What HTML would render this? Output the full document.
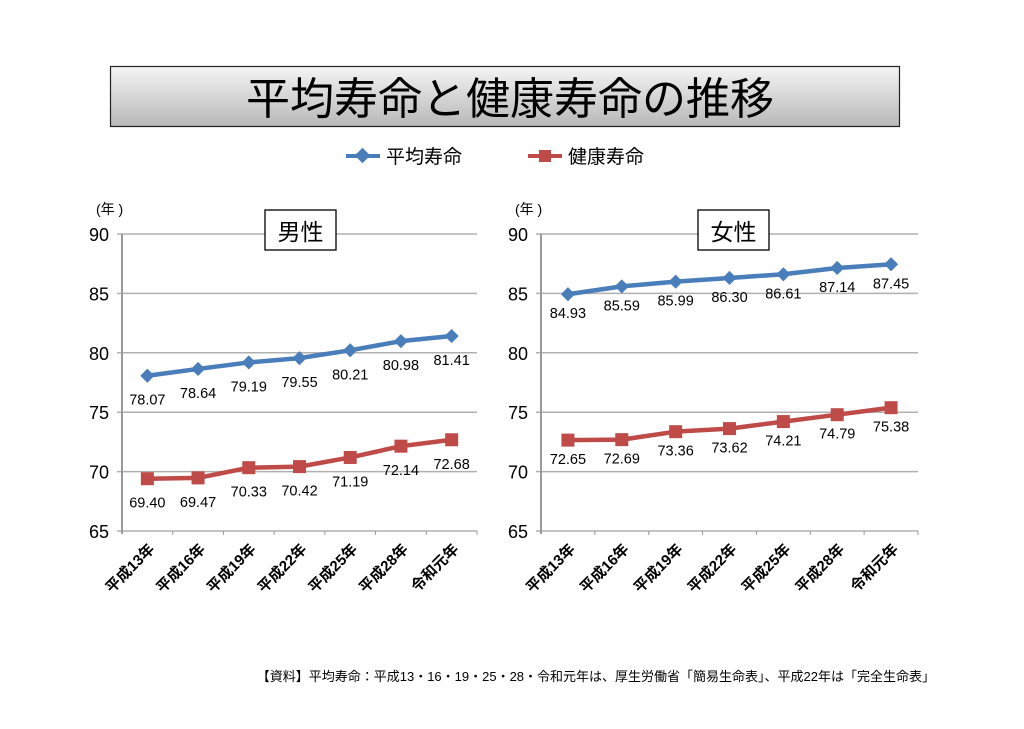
<!DOCTYPE html>
<html><head><meta charset="utf-8"><style>
body{margin:0;background:#fff;width:1024px;height:724px;overflow:hidden}
svg text{font-family:"Liberation Sans","Noto Sans CJK JP",sans-serif}
</style></head><body>
<svg width="1024" height="724" xmlns="http://www.w3.org/2000/svg">
<defs>
<linearGradient id="g" x1="0" y1="0" x2="0" y2="1"><stop offset="0" stop-color="#f4f4f4"/><stop offset="1" stop-color="#b8b8b8"/></linearGradient>
</defs>
<rect x="110.5" y="66.5" width="789" height="60" fill="url(#g)" stroke="#222" stroke-width="1.2"/>
<text x="510" y="114" font-size="44" text-anchor="middle" fill="#000">平均寿命と健康寿命の推移</text>
<!-- legend -->
<line x1="346" y1="156" x2="380" y2="156" stroke="#4a7ebb" stroke-width="4"/>
<rect x="357" y="150" width="11" height="11" fill="#4a7ebb" transform="rotate(45 362.5 155.5)"/>
<text x="386" y="163" font-size="19">平均寿命</text>
<line x1="528" y1="156" x2="562" y2="156" stroke="#be4b48" stroke-width="4"/>
<rect x="539" y="150" width="12" height="12" fill="#be4b48"/>
<text x="568" y="163" font-size="19">健康寿命</text>
<g id="charts"></g>
<text x="935" y="681" font-size="13" text-anchor="end">【資料】平均寿命：平成13・16・19・25・28・令和元年は、厚生労働省「簡易生命表」、平成22年は「完全生命表」</text>
</svg>
<script>
const ns="http://www.w3.org/2000/svg",G=document.getElementById('charts');
function el(t,a,txt){const e=document.createElementNS(ns,t);for(const k in a)e.setAttribute(k,a[k]);if(txt!==undefined)e.textContent=txt;G.appendChild(e);return e;}
const cats=["平成13年","平成16年","平成19年","平成22年","平成25年","平成28年","令和元年"];
function chart(x0,x1,title,tx,a,b){
 const y=v=>234+(90-v)*11.88, w=(x1-x0)/7;
 for(let v=65;v<=90;v+=5){el('line',{x1:x0-5,y1:y(v),x2:x1,y2:y(v),stroke:'#b0b0b0','stroke-width':1.5});
  el('text',{x:x0-13,y:y(v)+7,'font-size':18,'text-anchor':'end'},v);}
 el('line',{x1:x0,y1:234,x2:x0,y2:y(65)+3,stroke:'#999','stroke-width':2});
 for(let i=1;i<=7;i++)el('line',{x1:x0+i*w,y1:y(65),x2:x0+i*w,y2:y(65)+4,stroke:'#999','stroke-width':1});
 el('text',{x:x0-26,y:214,'font-size':14},'(年 )');
 el('rect',{x:tx,y:210,width:71,height:40,fill:'#fff',stroke:'#000','stroke-width':1.3});
 el('text',{x:tx+35.5,y:240,'font-size':23,'text-anchor':'middle'},title);
 cats.forEach((c,i)=>{const cx=x0+(i+0.5)*w+8,cy=y(65)+19;
  el('text',{x:cx,y:cy,'font-size':15,'font-weight':'bold','text-anchor':'end',transform:`rotate(-45 ${cx} ${cy})`},c);});
 const P=(d,col,sq)=>{el('polyline',{points:d.map((v,i)=>`${x0+(i+0.5)*w},${y(v)}`).join(' '),fill:'none',stroke:col,'stroke-width':4.5,'stroke-linejoin':'round'});
  d.forEach((v,i)=>{const cx=x0+(i+0.5)*w,cy=y(v);
   if(sq)el('rect',{x:cx-6.5,y:cy-6.5,width:13,height:13,fill:col});
   else el('rect',{x:cx-5,y:cy-5,width:10,height:10,fill:col,transform:`rotate(45 ${cx} ${cy})`});
   el('text',{x:cx,y:cy+(x0<300?29:24),'font-size':14.5,'text-anchor':'middle'},v.toFixed(2));});};
 P(a,'#4a7ebb',false);P(b,'#be4b48',true);
}
chart(122,477,'男性',265,[78.07,78.64,79.19,79.55,80.21,80.98,81.41],[69.40,69.47,70.33,70.42,71.19,72.14,72.68]);
chart(541,918,'女性',698,[84.93,85.59,85.99,86.30,86.61,87.14,87.45],[72.65,72.69,73.36,73.62,74.21,74.79,75.38]);
</script>
</body></html>
